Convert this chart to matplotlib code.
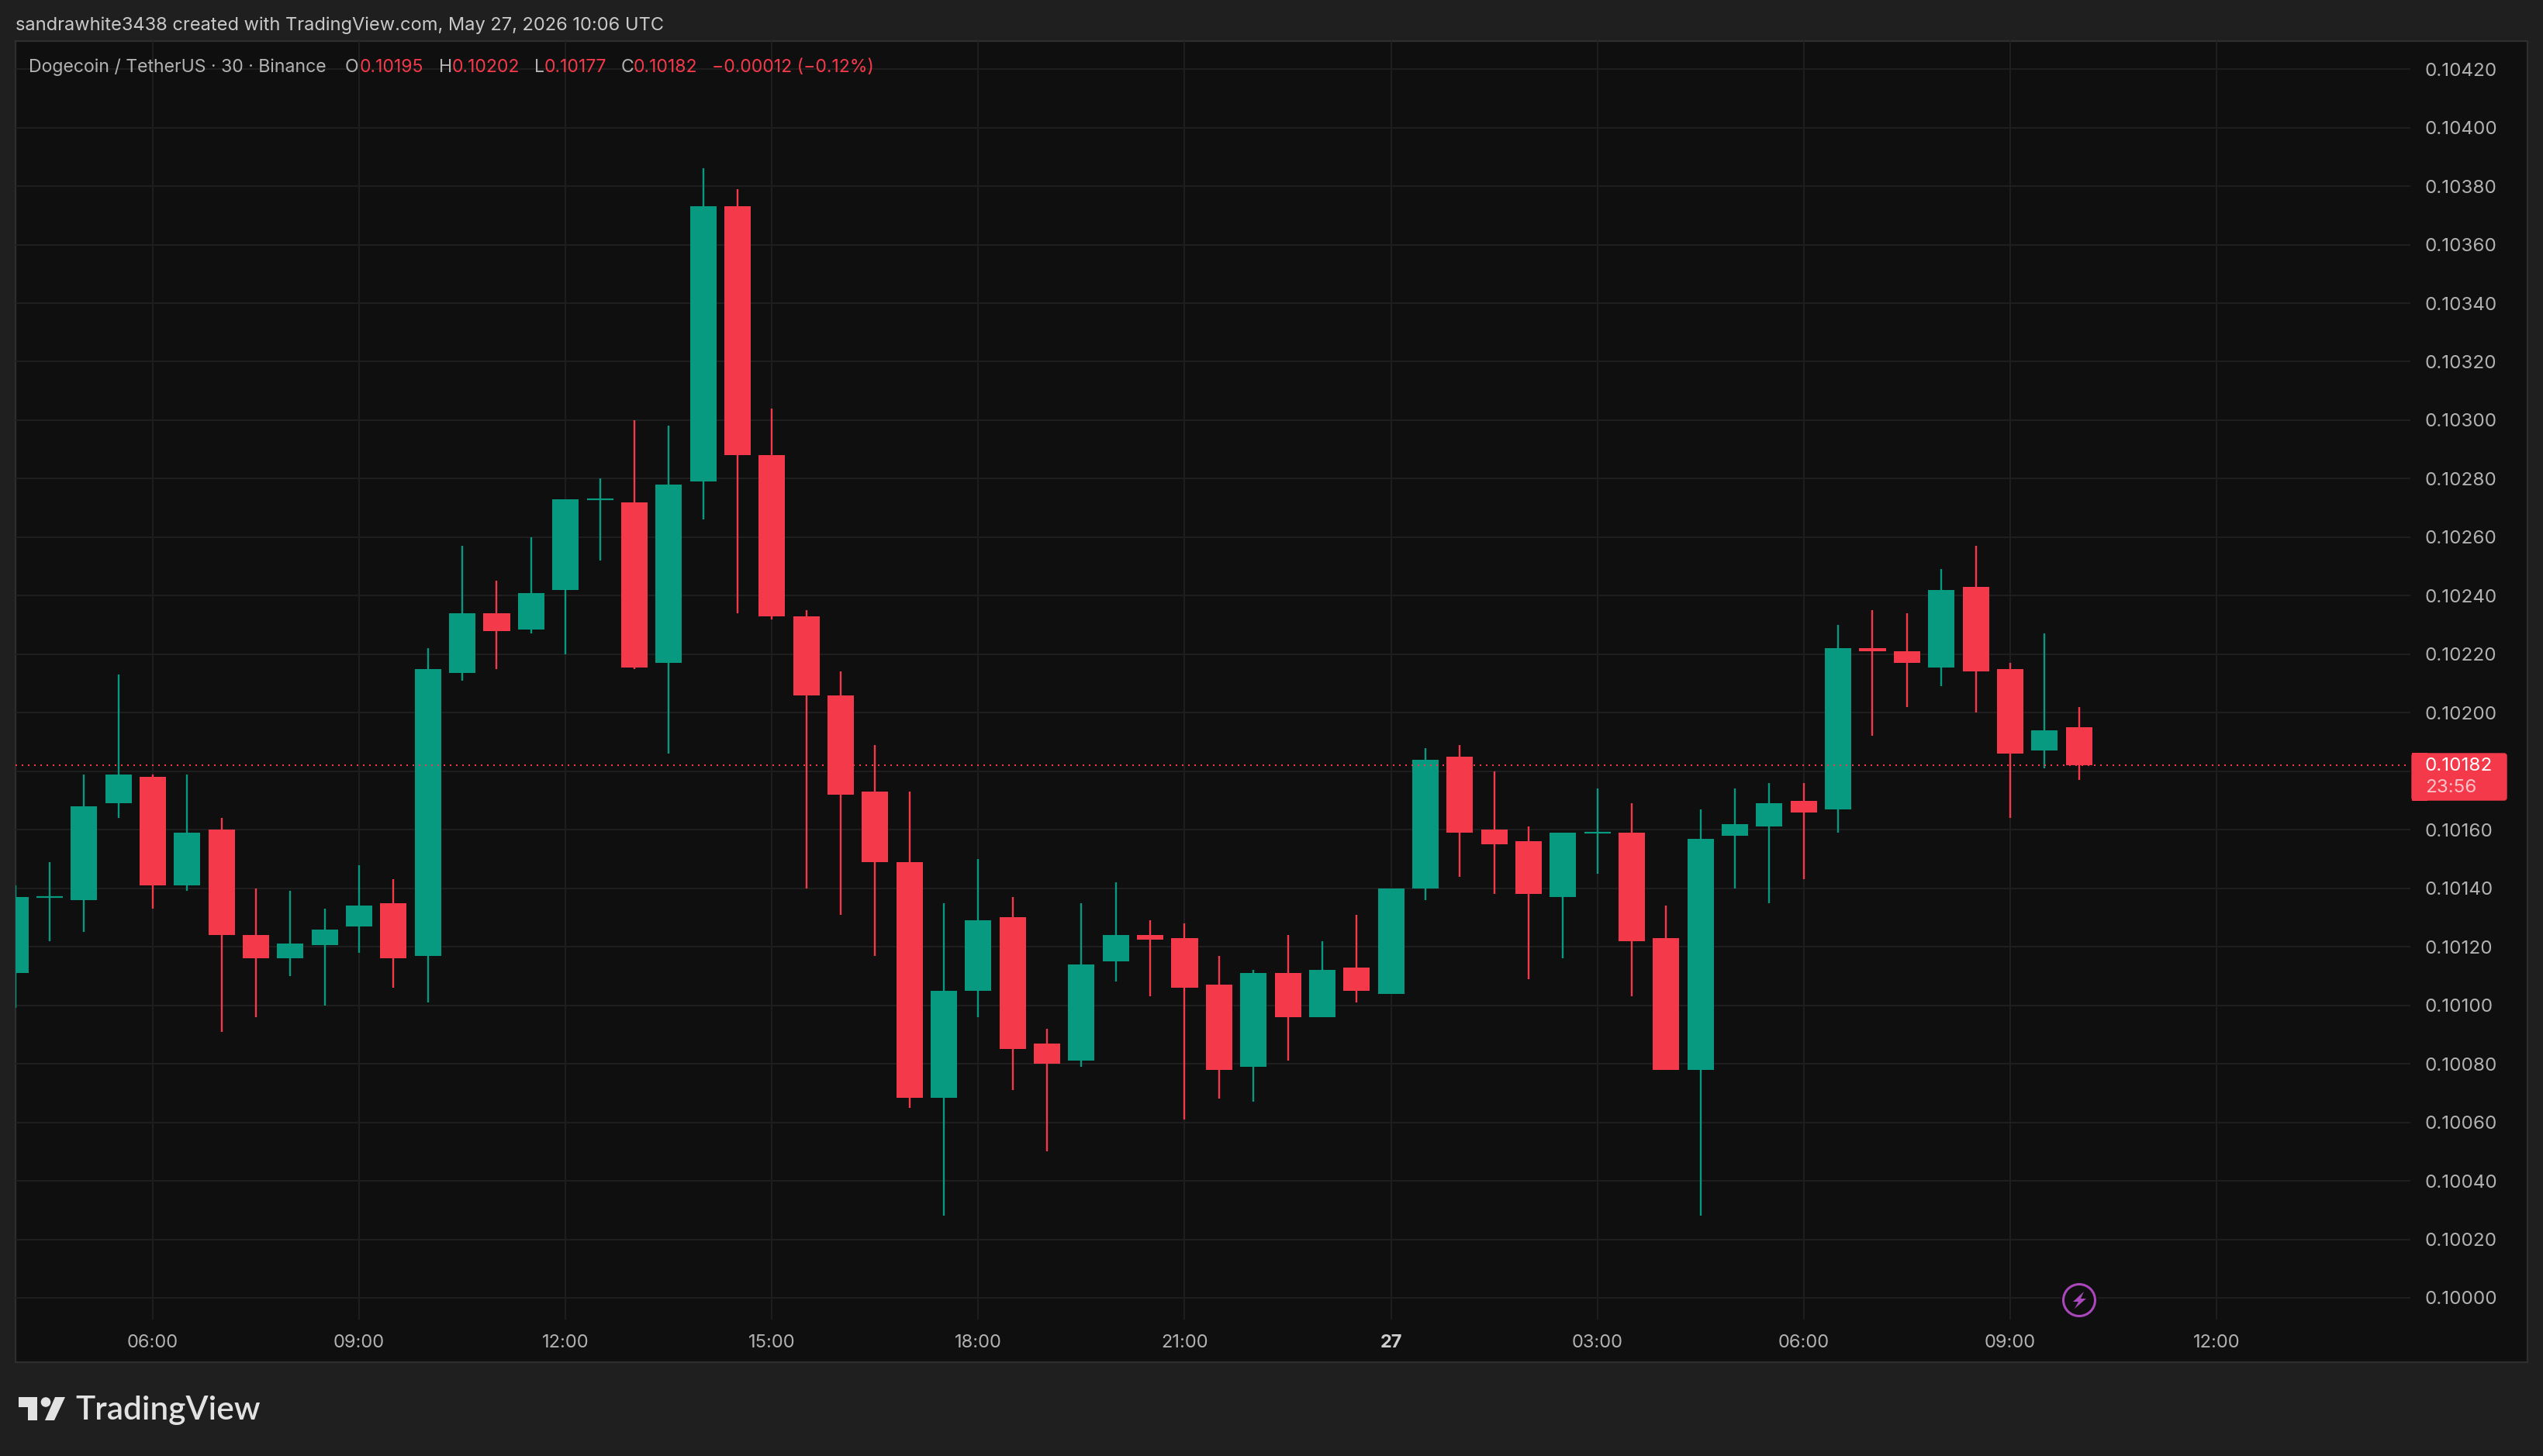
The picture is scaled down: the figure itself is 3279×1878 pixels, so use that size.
import matplotlib
matplotlib.use("Agg")
import matplotlib.pyplot as plt
from matplotlib.patches import Rectangle, Circle, Polygon, FancyBboxPatch

W, H, DPI = 3280, 1878, 100
FONT = ["Inter", "DejaVu Sans"]

opens = [.10111,.10137,.10136,.10169,.10178,.10141,.10160,.10124,.10116,.101205,
         .10127,.10135,.10117,.102135,.10234,.102285,.10242,.10273,.10272,.10217,
         .10279,.10373,.10288,.10233,.10206,.10173,.10149,.100685,.10105,.10130,
         .10087,.10081,.10115,.10124,.10123,.10107,.10079,.10111,.10096,.10113,
         .10104,.10140,.10185,.10160,.10156,.10137,.10159,.10159,.10123,.10078,
         .10158,.10161,.10170,.10167,.10222,.10221,.102155,.10243,.10215,.10187,.10195]
highs = [.10141,.10149,.10179,.10213,.10179,.10179,.10164,.10140,.10139,.10133,
         .10148,.10143,.10222,.10257,.10245,.10260,.10273,.10280,.10300,.10298,
         .10386,.10379,.10304,.10235,.10214,.10189,.10173,.10135,.10150,.10137,
         .10092,.10135,.10142,.10129,.10128,.10117,.10112,.10124,.10122,.10131,
         .10140,.10188,.10189,.10180,.10161,.10159,.10174,.10169,.10134,.10167,
         .10174,.10176,.10176,.10230,.10235,.10234,.10249,.10257,.10217,.10227,.10202]
lows = [.10099,.10122,.10125,.10164,.10133,.10139,.10091,.10096,.10110,.10100,
        .10118,.10106,.10101,.10211,.10215,.10227,.10220,.10252,.10215,.10186,
        .10266,.10234,.10232,.10140,.10131,.10117,.10065,.10028,.10096,.10071,
        .10050,.10079,.10108,.10103,.10061,.10068,.10067,.10081,.10096,.10101,
        .10104,.10136,.10144,.10138,.10109,.10116,.10145,.10103,.10078,.10028,
        .10140,.10135,.10143,.10159,.10192,.10202,.10209,.10200,.10164,.10181,.10177]
closes = [.10137,.10137,.10168,.10179,.10141,.10159,.10124,.10116,.10121,.10126,
          .10134,.10116,.10215,.10234,.10228,.10241,.10273,.10273,.102155,.10278,
          .10373,.10288,.10233,.10206,.10172,.10149,.100685,.10105,.10129,.10085,
          .10080,.10114,.10124,.101225,.10106,.10078,.10111,.10096,.10112,.10105,
          .10140,.10184,.10159,.10155,.10138,.10159,.10159,.10122,.10078,.10157,
          .10162,.10169,.10166,.10222,.10221,.10217,.10242,.10214,.10186,.10194,.10182]

time_positions = [4, 10, 16, 22, 28, 34, 40, 46, 52, 58, 64]
time_labels = ["06:00", "09:00", "12:00", "15:00", "18:00", "21:00", "27",
               "03:00", "06:00", "09:00", "12:00"]
price_ticks = [round(0.10000 + 0.0002 * k, 5) for k in range(22)]
hidden_price_label = 0.10180   # covered by the last-price tag in the reference
last_price = 0.10182

UP, DOWN = "#089981", "#F43A4A"
BG_OUT, BG_IN, FRAME, GRID = "#1F1F1F", "#0F0F0F", "#2E2E2E", "#1E1E1E"
TXT = "#B2B2B2"

plt.rcParams["font.family"] = FONT
fig = plt.figure(figsize=(W / DPI, H / DPI), dpi=DPI, facecolor=BG_OUT)


def full_axes(z):
    a = fig.add_axes([0, 0, 1, 1], zorder=z)
    a.set_xlim(0, W)
    a.set_ylim(H, 0)
    a.axis("off")
    return a


under = full_axes(0)
over = full_axes(2)
under.add_patch(Rectangle((20, 53), 3239, 1704, fc=BG_IN, ec=FRAME, lw=1.6))

# main pane, pixel bounds 20..3108 x 53..1702
L, R, T, B = 20, 3108, 53, 1702
ax = fig.add_axes([L / W, 1 - B / H, (R - L) / W, (B - T) / H], zorder=1)
ax.patch.set_alpha(0)
for s in ax.spines.values():
    s.set_visible(False)
PX_PER_BAR = 44.35
PX_PER_PRICE = 377350
ax.set_xlim(4 + (L - 197) / PX_PER_BAR, 4 + (R - 197) / PX_PER_BAR)
ax.set_ylim(0.1 - (B - 1674) / PX_PER_PRICE, 0.1 + (1674 - T) / PX_PER_PRICE)

ax.grid(True, color=GRID, lw=1.5)
ax.set_axisbelow(True)
ax.set_xticks(time_positions)
ax.set_xticklabels(time_labels, fontsize=17, color=TXT)
ax.set_yticks(price_ticks)
ax.set_yticklabels(["" if p == hidden_price_label else f"{p:.5f}" for p in price_ticks],
                   fontsize=17.4, color=TXT)
ax.yaxis.tick_right()
ax.tick_params(axis="both", length=0)
ax.tick_params(axis="y", pad=13)
ax.tick_params(axis="x", pad=13.7)
for lab in ax.get_xticklabels():
    if lab.get_text() == "27":
        lab.set_fontweight("bold")
        lab.set_color("#CFCFCF")

xs = list(range(len(opens)))
colors = [UP if c >= o else DOWN for o, c in zip(opens, closes)]
ax.vlines(xs, lows, highs, colors=colors, lw=1.7, zorder=3, capstyle="butt")
ax.bar(xs, [c - o for o, c in zip(opens, closes)], bottom=opens, width=0.767,
       color=colors, lw=0, zorder=4)
for x, o, c, col in zip(xs, opens, closes, colors):
    if o == c:
        ax.hlines(o, x - 0.3835, x + 0.3835, color=col, lw=1.6, zorder=4)
ax.axhline(last_price, color=DOWN, lw=1.44, ls=(0, (1.0, 3.0)), zorder=5, xmax=0.998,
           dash_capstyle="butt", snap=True)

# price tag
over.add_patch(FancyBboxPatch((3110, 972), 122, 60, boxstyle="round,pad=0,rounding_size=3",
                              fc=DOWN, ec=DOWN, lw=1))
over.add_patch(Rectangle((3110, 971), 20, 62, fc=DOWN, ec="none"))
over.text(3127, 988, "0.10182", color="#FFFFFF", fontsize=17.4, va="center", ha="left")
over.text(3127, 1016, "23:56", color="#FBC4CA", fontsize=17.4, va="center", ha="left")

# header
over.text(20, 33, "sandrawhite3438 created with TradingView.com, May 27, 2026 10:06 UTC",
          color="#C9C9C9", fontsize=17, va="center", ha="left")
legend_parts = [
    (37, "Dogecoin / TetherUS · 30 · Binance", TXT),
    (445, "O", TXT), (464, "0.10195", DOWN),
    (566, "H", TXT), (583, "0.10202", DOWN),
    (689, "L", TXT), (702, "0.10177", DOWN),
    (801, "C", TXT), (817, "0.10182", DOWN),
    (918, "−0.00012 (−0.12%)", DOWN),
]
for x, s, c in legend_parts:
    over.text(x, 87, s, color=c, fontsize=16.6, va="center", ha="left")

# lightning badge
over.add_patch(Circle((2681, 1677), 24, fc=BG_IN, ec="none"))
over.add_patch(Circle((2681, 1677), 20.5, fc="none", ec="#AB47BC", lw=2.2))
over.add_patch(Polygon([(2687, 1666), (2673, 1679), (2680, 1679), (2675, 1688),
                        (2690, 1675), (2683, 1675)], closed=True, fc="#AB47BC", ec="none"))

# logo
LOGO = "#E2E2E2"
over.add_patch(Polygon([(24, 1802), (48, 1802), (48, 1832), (36, 1832), (36, 1815), (24, 1815)],
                       closed=True, fc=LOGO, ec="none"))
over.add_patch(Circle((59, 1808.5), 6.3, fc=LOGO, ec="none"))
over.add_patch(Polygon([(71, 1802), (84, 1802), (70, 1832), (58, 1832)],
                       closed=True, fc=LOGO, ec="none"))
over.text(97, 1819, "TradingView", color=LOGO, fontsize=30.5, fontweight="semibold",
          va="center", ha="left", family=["Lato", "DejaVu Sans"])

fig.savefig("out.png", dpi=DPI, facecolor=BG_OUT)
